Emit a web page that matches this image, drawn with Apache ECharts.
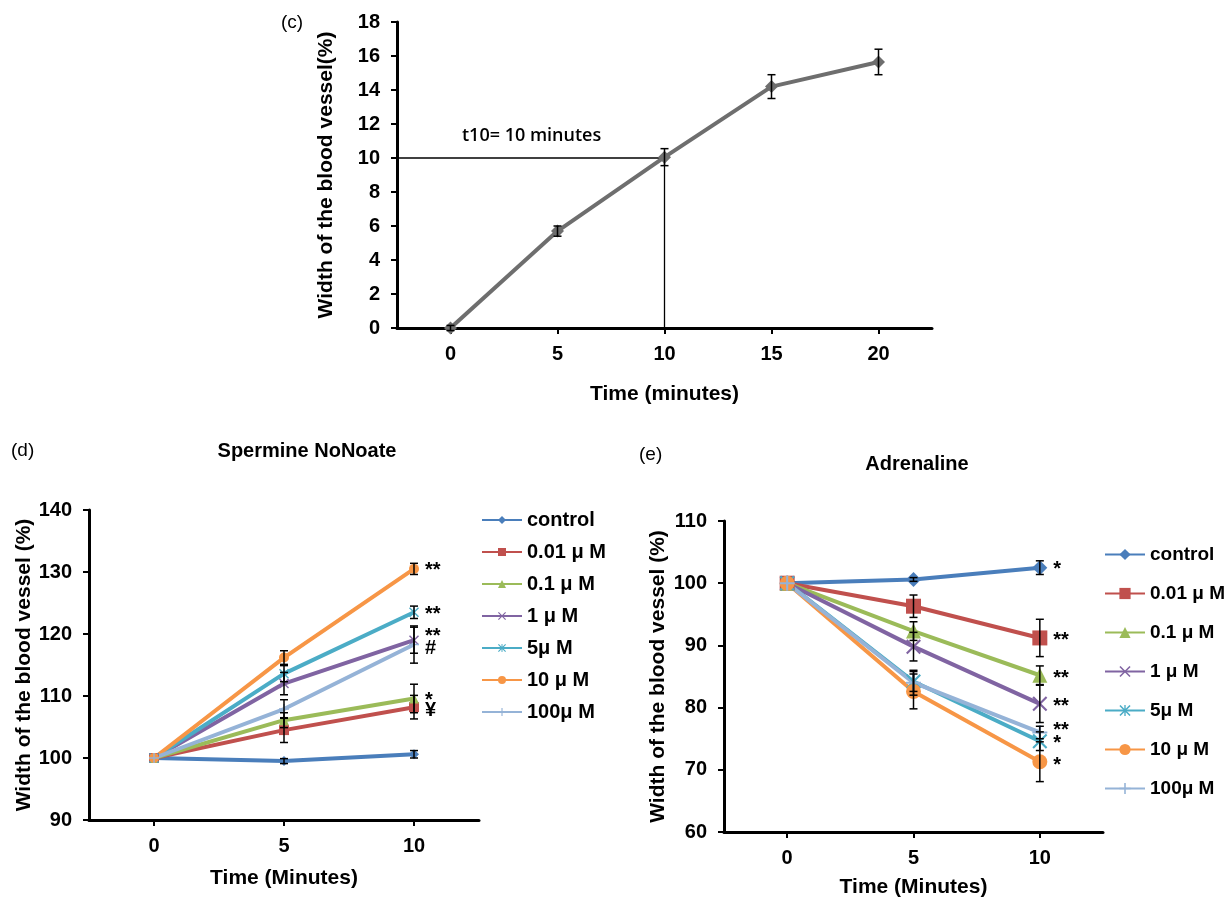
<!DOCTYPE html>
<html>
<head>
<meta charset="utf-8">
<script src="https://cdn.jsdelivr.net/npm/echarts@6/dist/echarts.min.js"></script>
<style>
html, body { margin: 0; padding: 0; background: #fff; }
#main { width: 1229px; height: 899px; }
</style>
</head>
<body>
<div id="main"></div>
<script>
// (c) time course
var timeC = ['0', '5', '10', '15', '20'];
var widthC = [0, 5.7, 10.05, 14.2, 15.65];
var errC = [0.15, 0.3, 0.5, 0.7, 0.75];
var t10 = [[2, 10]];

// (d) and (e)
var timeDE = ['0', '5', '10'];
var groups = ['control', '0.01 μ M', '0.1 μ M', '1 μ M', '5μ M', '10 μ M', '100μ M'];

var spermine = [
    [100, 99.5, 100.6],
    [100, 104.5, 108.2],
    [100, 106.1, 109.6],
    [100, 112, 119],
    [100, 113.6, 123.5],
    [100, 116.2, 130.5],
    [100, 107.9, 118.3]
];
var spermineErr = [
    [0, 0.4, 0.6],
    [0, 2, 1.9],
    [0, 1.2, 2.3],
    [0, 1.8, 2.1],
    [0, 1.3, 1],
    [0, 1.1, 0.9],
    [0, 1.5, 3]
];
var spermineSig = ['', '¥', '*', '**', '**', '**', '#'];

var adrenaline = [
    [100, 100.6, 102.5],
    [100, 96.3, 91.2],
    [100, 92.3, 85.2],
    [100, 89.8, 80.6],
    [100, 84.2, 74.6],
    [100, 82.6, 71.3],
    [100, 84, 76]
];
var adrenalineErr = [
    [0, 0.3, 1.1],
    [0, 1.8, 3],
    [0, 1.5, 1.5],
    [0, 2.3, 3],
    [0, 1.6, 1.5],
    [0, 2.8, 3.2],
    [0, 2, 1]
];
var adrenalineSig = ['*', '**', '**', '**', '*', '*', '**'];

var colors = ['#4a7ebb', '#c0504d', '#9bbb59', '#8064a2', '#4bacc6', '#f79646', '#95b3d7'];

// small vertical nudges so the significance marks sit like the original
var sigShiftD = [0, 3, 2, -4, 2, 2, 4];
var sigShiftE = [2, 3, 3, 3, 2, 4, -2];

var X_PATH = 'path://M0,1L1,0L5,4L9,0L10,1L6,5L10,9L9,10L5,6L1,10L0,9L4,5Z';
var STAR_PATH = 'path://M0,1L1,0L5,4L9,0L10,1L6,5L10,9L9,10L5,6L1,10L0,9L4,5Z M4.4,0H5.6V10H4.4Z';
var PLUS_PATH = 'path://M4.3,0H5.7V4.3H10V5.7H5.7V10H4.3V5.7H0V4.3H4.3Z';
var symbols = ['diamond', 'rect', 'triangle', X_PATH, STAR_PATH, 'circle', PLUS_PATH];

var FONT = '"Liberation Sans", Arial, sans-serif';

function errorBars(xi, vals, errs, cap) {
    return {
        type: 'custom',
        xAxisIndex: xi,
        yAxisIndex: xi,
        silent: true,
        z: 4,
        renderItem: function (params, api) {
            if (api.value(1) === api.value(2)) return;
            var lo = api.coord([api.value(0), api.value(1)]);
            var hi = api.coord([api.value(0), api.value(2)]);
            var st = { stroke: '#000', lineWidth: 1.5 };
            return {
                type: 'group',
                children: [
                    { type: 'line', shape: { x1: hi[0], y1: hi[1], x2: lo[0], y2: lo[1] }, style: st },
                    { type: 'line', shape: { x1: hi[0] - cap, y1: hi[1], x2: hi[0] + cap, y2: hi[1] }, style: st },
                    { type: 'line', shape: { x1: lo[0] - cap, y1: lo[1], x2: lo[0] + cap, y2: lo[1] }, style: st }
                ]
            };
        },
        data: vals.map(function (v, i) { return [i, v - errs[i], v + errs[i]]; })
    };
}

function lineSeries(name, xi, vals, sig, shift, color, symbol, size) {
    return {
        name: name,
        type: 'line',
        xAxisIndex: xi,
        yAxisIndex: xi,
        symbol: symbol,
        symbolSize: size,
        lineStyle: { color: color, width: 4 },
        itemStyle: { color: color },
        z: 3,
        data: vals.map(function (v, i) {
            var item = { value: v };
            if (i === vals.length - 1 && sig) {
                item.label = {
                    show: true, position: 'right', distance: 6, formatter: sig, offset: [0, shift],
                    color: '#000', fontSize: 20, fontWeight: 'bold', fontFamily: FONT
                };
            }
            return item;
        })
    };
}

function xAxisOf(gi, cats, nameGap) {
    return {
        type: 'category', gridIndex: gi, data: cats, boundaryGap: true,
        name: gi === 0 ? 'Time (minutes)' : 'Time (Minutes)',
        nameLocation: 'middle', nameGap: nameGap,
        nameTextStyle: { color: '#000', fontSize: 21, fontWeight: 'bold', fontFamily: FONT },
        axisLine: { lineStyle: { color: '#000', width: 3 } },
        axisTick: { show: true, alignWithLabel: true, length: 6, lineStyle: { color: '#000', width: 2 } },
        axisLabel: { color: '#000', fontSize: 20, fontWeight: 'bold', fontFamily: FONT, margin: 16 },
        splitLine: { show: false }
    };
}

function yAxisOf(gi, min, max, step, name, nameGap) {
    return {
        type: 'value', gridIndex: gi, min: min, max: max, interval: step,
        name: name, nameLocation: 'middle', nameGap: nameGap, nameRotate: 90,
        nameTextStyle: { color: '#000', fontSize: 21, fontWeight: 'bold', fontFamily: FONT },
        axisLine: { show: true, lineStyle: { color: '#000', width: 3 } },
        axisTick: { show: true, length: 6, lineStyle: { color: '#000', width: 2 } },
        axisLabel: { color: '#000', fontSize: 20, fontWeight: 'bold', fontFamily: FONT, margin: 17 },
        splitLine: { show: false }
    };
}

var series = [];

// (c)
series.push({
    type: 'custom', xAxisIndex: 0, yAxisIndex: 0, silent: true, z: 2,
    renderItem: function (params, api) {
        var p = api.coord([api.value(0), api.value(1)]);
        var b = api.coord([api.value(0), 0]);
        var st = { stroke: '#000', lineWidth: 1.3 };
        return {
            type: 'group',
            children: [
                { type: 'line', shape: { x1: params.coordSys.x, y1: p[1], x2: p[0], y2: p[1] }, style: st },
                { type: 'line', shape: { x1: p[0], y1: p[1], x2: p[0], y2: b[1] }, style: st }
            ]
        };
    },
    data: t10
});
series.push({
    type: 'line', xAxisIndex: 0, yAxisIndex: 0,
    symbol: 'diamond', symbolSize: 13,
    lineStyle: { color: '#6e6e6e', width: 4 },
    itemStyle: { color: '#6e6e6e' },
    z: 3,
    data: widthC
});
series.push(errorBars(0, widthC, errC, 4));

// (d)
groups.forEach(function (g, k) {
    series.push(lineSeries(g, 1, spermine[k], spermineSig[k], sigShiftD[k], colors[k], symbols[k], 10));
});
groups.forEach(function (g, k) {
    series.push(errorBars(1, spermine[k], spermineErr[k], 4));
});

// (e)
groups.forEach(function (g, k) {
    series.push(lineSeries(g, 2, adrenaline[k], adrenalineSig[k], sigShiftE[k], colors[k], symbols[k], 15));
});
groups.forEach(function (g, k) {
    series.push(errorBars(2, adrenaline[k], adrenalineErr[k], 4));
});

var titleStyle = { color: '#000', fontSize: 20, fontWeight: 'bold', fontFamily: FONT };
var tagStyle = { color: '#000', fontSize: 19, fontWeight: 'normal', fontFamily: FONT };
var legendText = { color: '#000', fontSize: 20, fontWeight: 'bold', fontFamily: FONT };
var legendTextE = { color: '#000', fontSize: 19, fontWeight: 'bold', fontFamily: FONT };

var option = {
    animation: false,
    backgroundColor: '#fff',
    title: [
        { text: '(c)', left: 276, top: 8, textStyle: tagStyle },
        { text: '(d)', left: 6, top: 436, textStyle: tagStyle },
        { text: 'Spermine NoNoate', left: 302, top: 436, textAlign: 'center', textStyle: titleStyle },
        { text: '(e)', left: 634, top: 440, textStyle: tagStyle },
        { text: 'Adrenaline', left: 912, top: 449, textAlign: 'center', textStyle: titleStyle }
    ],
    legend: [
        {
            data: groups, orient: 'vertical', left: 476, top: 505,
            itemWidth: 40, itemHeight: 10, itemGap: 12,
            textStyle: legendText,
            selectedMode: false
        },
        {
            data: groups, orient: 'vertical', left: 1099, top: 540,
            itemWidth: 40, itemHeight: 14, itemGap: 20,
            textStyle: legendTextE,
            selectedMode: false
        }
    ],
    grid: [
        { left: 397, top: 22, width: 535, height: 306 },
        { left: 89, top: 510, width: 390, height: 310 },
        { left: 724, top: 521, width: 379, height: 311 }
    ],
    xAxis: [xAxisOf(0, timeC, 56), xAxisOf(1, timeDE, 48), xAxisOf(2, timeDE, 45)],
    yAxis: [
        yAxisOf(0, 0, 18, 2, 'Width of the blood vessel(%)', 60),
        yAxisOf(1, 90, 140, 10, 'Width of the blood vessel (%)', 51),
        yAxisOf(2, 60, 110, 10, 'Width of the blood vessel (%)', 55)
    ],
    graphic: [
        {
            type: 'text', left: 462, top: 127,
            style: { text: 't10= 10 minutes', fill: '#000', font: '600 18px "Open Sans", sans-serif' }
        }
    ],
    series: series
};

var chart = echarts.init(document.getElementById('main'));
chart.setOption(option);
</script>
</body>
</html>
